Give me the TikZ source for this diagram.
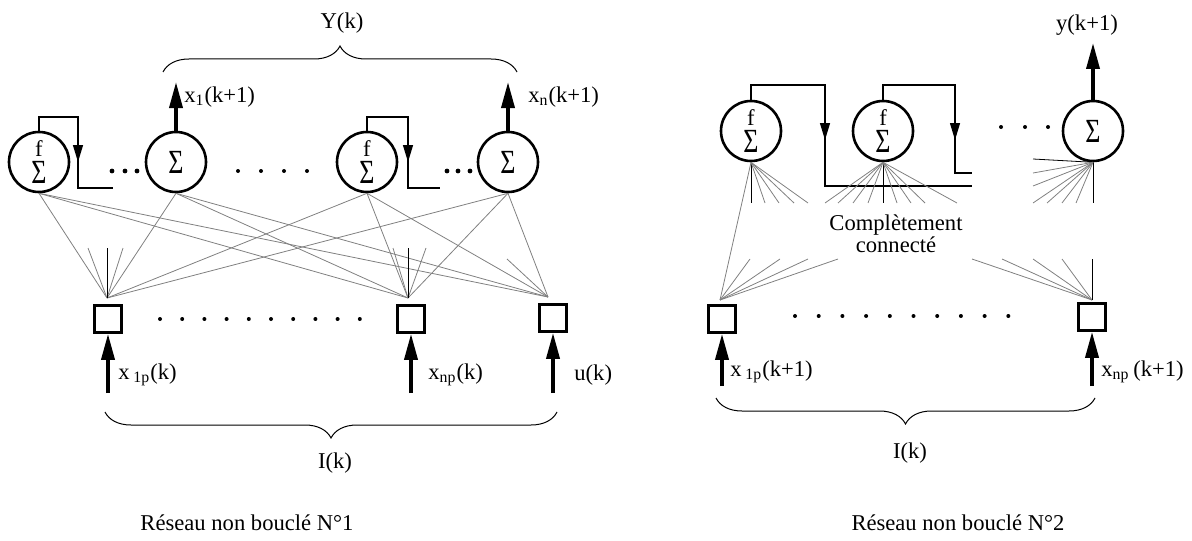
\documentclass[tikz,border=0pt]{standalone}
\usepackage{fontspec}
\setmainfont{Liberation Serif}
\usetikzlibrary{arrows.meta,decorations.pathreplacing}

\tikzset{
  neur/.style={circle, draw, line width=1.3pt, minimum size=30pt, inner sep=0pt},
  entree/.style={rectangle, draw, line width=1.3pt, minimum size=13.5pt, inner sep=0pt},
  syn/.style={gray, line width=0.4pt},
  fb/.style={line width=0.6pt},
  fbtip/.style={line width=0.6pt, -{Triangle[length=8.5pt,width=5pt]}},
  grosse/.style={line width=1.8pt, -{Triangle[length=13pt,width=6.5pt]}},
  lbl/.style={font=\fontsize{11.3}{13}\selectfont, inner sep=0pt},
  accolade/.style={decorate, decoration={brace, amplitude=13pt}, line width=0.5pt},
}
\newcommand{\sig}{{\fontsize{13}{13}\selectfont\scalebox{1}[1.3]{Σ}}}
\def\point(#1){\fill (#1) circle (2);}
% neurone avec fonction f : nom, position
\def\fneur#1(#2){
	\node[neur] (#1) at (#2) {};
	\node[lbl] (#1f) at ([yshift=6.5pt]#1.center) {f};
	\node[lbl] (#1s) at ([yshift=-5pt]#1.center) {\sig};
}

\begin{document}
\begin{tikzpicture}[x=0.5pt, y=-0.5pt]
		\useasboundingbox (0,0) rectangle (1192,540);
		%%%%% RESEAU 1 %%%%%
		
		\fneur n1(39,162)
		\node[neur, lbl] (n2) at (176,162) {\sig};
		\fneur n3(367,162)
		\node[neur, lbl] (n4) at (508,162) {\sig};
		
		\draw[fb] (n1.north) |- (78,117) -- (78,188) -- (113,188);
		\draw[fbtip] (78,140) -- (78,162);
		\draw[fb] (n3.north) |- (408,117) -- (408,188) -- (440,188);
		\draw[fbtip] (408,140) -- (408,162);
		
		\foreach \x in {112,125,137,447,458,470} \fill (\x,171) circle (2.4);
		\foreach \x in {238,261,284,307} {\point(\x,171)}
		
		\coordinate (o1) at (176,82);
		\coordinate (o2) at (508,82);
		\draw[grosse] (n2.north) -- (o1);
		\draw[grosse] (n4.north) -- (o2);
		\node[lbl, anchor=west] (lo1) at (184,97) {x\textsubscript{1}(k+1)};
		\node[lbl, anchor=west] (lo2) at (528,97) {x\textsubscript{n}(k+1)};
		
		\draw[accolade] (163,72) -- (517,72);
		\node[lbl] (yk) at (342,23) {Y(k)};
		
		\coordinate (p1) at (107,298);
		\coordinate (p2) at (408,298);
		\coordinate (p3) at (548,297);
		\foreach \a in {n1,n2,n3,n4}
			\foreach \b in {p1,p2,p3}
				\draw[syn] (\a.south) -- (\b);
		\draw[syn] (p1) -- (88,248);
		\draw[syn] (p1) -- (123,248);
		\draw[syn] (p2) -- (393,248);
		\draw[syn] (p2) -- (426,248);
		\draw[syn] (p3) -- (507,259);
		\draw (p1) -- (107,248);
		\draw (p2) -- (408,248);
		
		\node[entree] (i1) at (108,319) {};
		\node[entree] (i2) at (411,319) {};
		\node[entree] (i3) at (553,318) {};
		\foreach \k in {0,...,9} {\point(160+22.2*\k,319)}
		
		\coordinate (t1) at (108,393);
		\coordinate (t2) at (411,393);
		\coordinate (t3) at (553,393);
		\draw[grosse] (t1) -- (i1);
		\draw[grosse] (t2) -- (i2);
		\draw[grosse] (t3) -- (i3);
		\node[lbl, anchor=west] (li1) at (118,375) {x\,\textsubscript{1p}(k)};
		\node[lbl, anchor=west] (li2) at (428,375) {x\textsubscript{np}(k)};
		\node[lbl, anchor=west] (li3) at (574,375) {u(k)};
		
		\draw[accolade] (557,412) -- (105,412);
		\node[lbl] (ik1) at (335,463) {I(k)};
		\node[lbl] (cap1) at (247,523) {Réseau non bouclé N°1};
		
		%%%%% RESEAU 2 %%%%%
		
		\fneur m1(751,131)
		\fneur m2(883,131)
		\node[neur, lbl] (m3) at (1093,131) {\sig};
		
		\draw[fb] (m1.north) |- (825,85) -- (825,186) -- (972,186);
		\draw[fbtip] (825,118) -- (825,140);
		\draw[fb] (m2.north) |- (955,85) -- (955,173) -- (972,173);
		\draw[fbtip] (955,118) -- (955,140);
		\foreach \x in {1001,1025,1048} {\point(\x,127)}
		
		\coordinate (o3) at (1093,43);
		\draw[grosse] (m3.north) -- (o3);
		\node[lbl] (lo3) at (1087,25) {y(k+1)};
		
		\draw (m3.south) -- (1033,159);
		\draw (m1.south) -- (751,203);
		\draw (m2.south) -- (883,203);
		\draw (m3.south) -- (1093,203);
		\foreach \x in {765,779,794,808} \draw[syn] (m1.south) -- (\x,203);
		\foreach \x in {825,838,853,868,897,911,925,957} \draw[syn] (m2.south) -- (\x,203);
		\foreach \x in {1033,1047,1062,1076} \draw[syn] (m3.south) -- (\x,203);
		\draw[syn] (m3.south) -- (1033,173);
		\draw[syn] (m3.south) -- (1033,186);
		
		\node[lbl, align=center] (cc) at (896,234) {Complètement\\[-2pt]connecté};
		
		\coordinate (q1) at (720,300);
		\coordinate (q2) at (1092,300);
		\draw[syn] (m1.south) -- (q1);
		\foreach \x in {750,780,808,838} \draw[syn] (q1) -- (\x,259);
		\foreach \x in {972,1002,1033,1062} \draw[syn] (q2) -- (\x,259);
		\draw (q2) -- (1092,259);
		
		\node[entree] (j1) at (722,319) {};
		\node[entree] (j2) at (1092,317) {};
		\foreach \k in {0,...,9} {\point(795+23.7*\k,316)}
		
		\coordinate (t4) at (722,386);
		\coordinate (t5) at (1092,386);
		\draw[grosse] (t4) -- (j1);
		\draw[grosse] (t5) -- (j2);
		\node[lbl, anchor=west] (lj1) at (730,372) {x\,\textsubscript{1p}(k+1)};
		\node[lbl, anchor=west] (lj2) at (1101,372) {x\textsubscript{np}\,(k+1)};
		
		\draw[accolade] (1095,398) -- (716,398);
		\node[lbl] (ik2) at (910,453) {I(k)};
		\node[lbl] (cap2) at (958,523) {Réseau non bouclé N°2};
		
		%%%%% END %%%%%
	\end{tikzpicture}
\end{document}
